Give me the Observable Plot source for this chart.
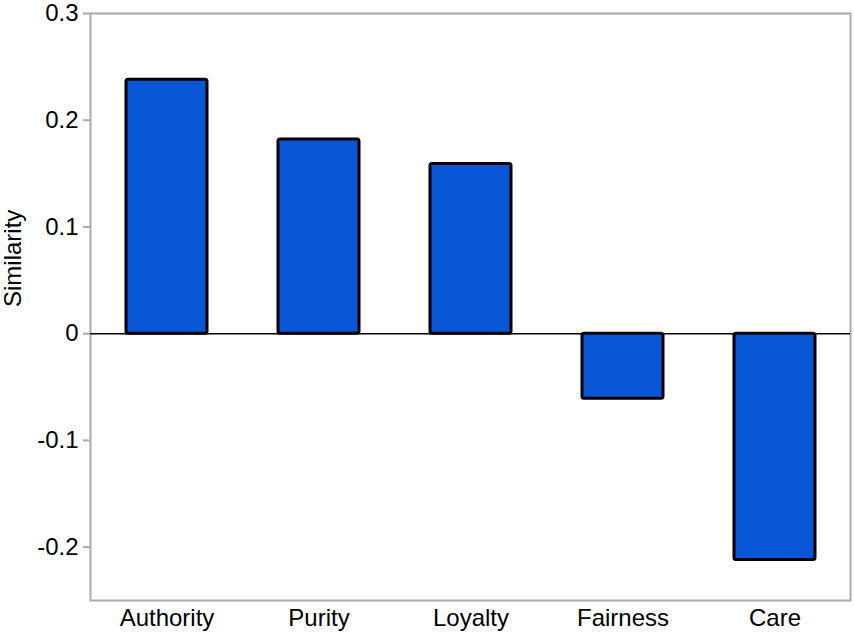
<!DOCTYPE html>
<html>
<head>
<meta charset="utf-8">
<script src="https://cdn.jsdelivr.net/npm/d3@7"></script>
<script src="https://cdn.jsdelivr.net/npm/@observablehq/plot@0.6"></script>
<style>
  html, body { margin: 0; padding: 0; background: #fff; }
  svg { display: block; }
</style>
</head>
<body>
<div id="chart"></div>
<script>
const categories = ["Authority", "Purity", "Loyalty", "Fairness", "Care"];
const similarity = [0.238, 0.182, 0.159, -0.061, -0.212];
const yTicks = [-0.2, -0.1, 0, 0.1, 0.2, 0.3];

const data = categories.map((c, i) => ({category: c, value: similarity[i]}));

const chart = Plot.plot({
  width: 854,
  height: 633,
  marginLeft: 90,
  marginRight: 4,
  marginTop: 13,
  marginBottom: 33,
  style: {fontFamily: "'Liberation Sans', Arial, Helvetica, sans-serif", fontSize: "24px", color: "#000", background: "#fff"},
  x: {domain: categories, paddingInner: 0.47, paddingOuter: 0.22, label: null},
  y: {domain: [-0.25, 0.3], label: null},
  marks: [
    Plot.frame({stroke: "#aaa", strokeWidth: 2}),
    Plot.axisY({ticks: yTicks, tickFormat: d => d === 0 ? "0" : d.toFixed(1), tickSize: 7, tickPadding: 5, stroke: "#aaa", strokeWidth: 2, fill: "#000", fontSize: 24, label: null}),
    Plot.axisX({tickSize: 0, tickPadding: 8, fontSize: 24, fill: "#000", label: null}),
    Plot.text(["Similarity"], {frameAnchor: "left", dx: -77, rotate: -90, fontSize: 24, fill: "#000"}),
    Plot.ruleY([0], {stroke: "#000", strokeWidth: 1.5}),
    Plot.barY(data, {x: "category", y: "value", fill: "#0957d4", stroke: "#000", strokeWidth: 3, rx: 2})
  ]
});
document.getElementById("chart").append(chart);
</script>
</body>
</html>
